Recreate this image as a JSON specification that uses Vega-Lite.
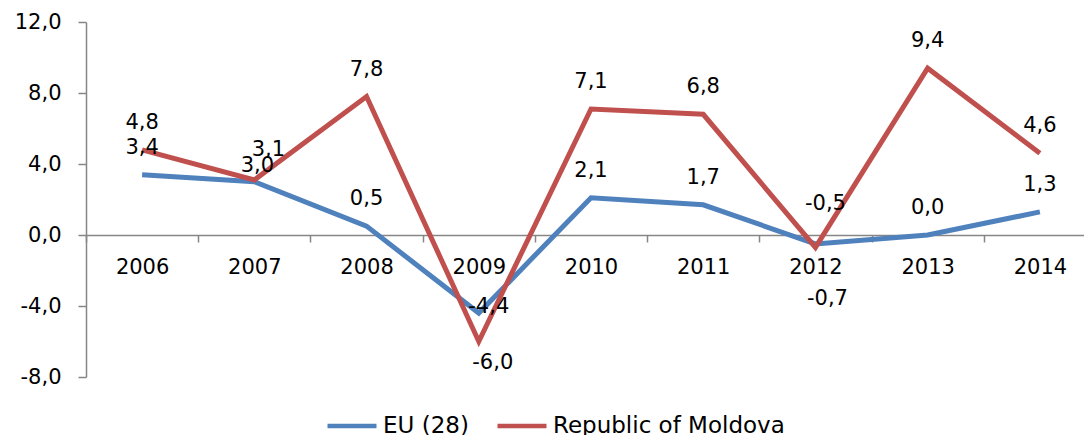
{
  "$schema": "https://vega.github.io/schema/vega-lite/v6.json",
  "width": 998,
  "height": 355,
  "autosize": "none",
  "padding": {"left": 86, "top": 22, "right": 0, "bottom": 58},
  "background": "white",
  "config": {"view": {"stroke": null}},
  "data": {
    "values": [
      {"year": "2006", "series": "EU (28)", "value": 3.4},
      {"year": "2007", "series": "EU (28)", "value": 3.0},
      {"year": "2008", "series": "EU (28)", "value": 0.5},
      {"year": "2009", "series": "EU (28)", "value": -4.4},
      {"year": "2010", "series": "EU (28)", "value": 2.1},
      {"year": "2011", "series": "EU (28)", "value": 1.7},
      {"year": "2012", "series": "EU (28)", "value": -0.5},
      {"year": "2013", "series": "EU (28)", "value": 0.0},
      {"year": "2014", "series": "EU (28)", "value": 1.3},
      {"year": "2006", "series": "Republic of Moldova", "value": 4.8},
      {"year": "2007", "series": "Republic of Moldova", "value": 3.1},
      {"year": "2008", "series": "Republic of Moldova", "value": 7.8},
      {"year": "2009", "series": "Republic of Moldova", "value": -6.0},
      {"year": "2010", "series": "Republic of Moldova", "value": 7.1},
      {"year": "2011", "series": "Republic of Moldova", "value": 6.8},
      {"year": "2012", "series": "Republic of Moldova", "value": -0.7},
      {"year": "2013", "series": "Republic of Moldova", "value": 9.4},
      {"year": "2014", "series": "Republic of Moldova", "value": 4.6}
    ]
  },
  "transform": [
    {"calculate": "replace(replace(format(datum.value, '.1f'), '.', ','), '−', '-')", "as": "label"}
  ],
  "encoding": {
    "x": {
      "field": "year",
      "type": "ordinal",
      "bandPosition": 0.5,
      "scale": {"type": "band", "range": [0, 1010], "paddingInner": 0, "paddingOuter": 0},
      "axis": {
        "orient": "bottom",
        "offset": -142,
        "title": null,
        "labelAngle": 0,
        "tickBand": "extent",
        "domainColor": "#868686",
        "tickColor": "#868686",
        "domainWidth": 1.5,
        "tickWidth": 1.5,
        "tickSize": 7,
        "labelPadding": 14,
        "labelFontSize": 21,
        "labelFont": "DejaVu Sans",
        "labelColor": "black"
      }
    },
    "y": {
      "field": "value",
      "type": "quantitative",
      "scale": {"domain": [-8, 12], "nice": false, "zero": false},
      "axis": {
        "values": [-8, -4, 0, 4, 8, 12],
        "title": null,
        "grid": false,
        "domainColor": "#868686",
        "tickColor": "#868686",
        "domainWidth": 1.5,
        "tickWidth": 1.5,
        "tickSize": 8,
        "labelPadding": 17,
        "labelFontSize": 21,
        "labelFont": "DejaVu Sans",
        "labelColor": "black",
        "labelExpr": "replace(replace(format(datum.value, '.1f'), '.', ','), '−', '-')"
      }
    }
  },
  "layer": [
    {
      "mark": {"type": "line", "strokeWidth": 5},
      "encoding": {
        "color": {
          "field": "series",
          "type": "nominal",
          "scale": {"domain": ["EU (28)", "Republic of Moldova"], "range": ["#4F81BD", "#C0504D"]},
          "legend": {
            "orient": "none",
            "direction": "horizontal",
            "legendX": 239,
            "legendY": 377,
            "title": null,
            "symbolType": "stroke",
            "symbolSize": 2401,
            "symbolStrokeWidth": 4.5,
            "labelFontSize": 23,
            "labelFont": "DejaVu Sans",
            "labelColor": "black",
            "labelLimit": 0,
            "labelOffset": 4,
            "columnPadding": 19,
            "padding": 0
          }
        }
      }
    },
    {
      "transform": [{"filter": "datum.year != '2007' && datum.year != '2009' && datum.year != '2012'"}],
      "mark": {"type": "text", "font": "DejaVu Sans", "fontSize": 21, "color": "black", "baseline": "middle", "align": "center", "dy": -27},
      "encoding": {"text": {"field": "label"}}
    },
    {
      "transform": [{"filter": "datum.year == '2007' && datum.series == 'Republic of Moldova'"}],
      "mark": {"type": "text", "font": "DejaVu Sans", "fontSize": 21, "color": "black", "baseline": "middle", "align": "center", "dx": 14, "dy": -30},
      "encoding": {"text": {"field": "label"}}
    },
    {
      "transform": [{"filter": "datum.year == '2007' && datum.series == 'EU (28)'"}],
      "mark": {"type": "text", "font": "DejaVu Sans", "fontSize": 21, "color": "black", "baseline": "middle", "align": "center", "dx": 3, "dy": -16},
      "encoding": {"text": {"field": "label"}}
    },
    {
      "transform": [{"filter": "datum.year == '2009' && datum.series == 'EU (28)'"}],
      "mark": {"type": "text", "font": "DejaVu Sans", "fontSize": 21, "color": "black", "baseline": "middle", "align": "center", "dx": 10, "dy": -6},
      "encoding": {"text": {"field": "label"}}
    },
    {
      "transform": [{"filter": "datum.year == '2009' && datum.series == 'Republic of Moldova'"}],
      "mark": {"type": "text", "font": "DejaVu Sans", "fontSize": 21, "color": "black", "baseline": "middle", "align": "center", "dx": 14, "dy": 21},
      "encoding": {"text": {"field": "label"}}
    },
    {
      "transform": [{"filter": "datum.year == '2012' && datum.series == 'EU (28)'"}],
      "mark": {"type": "text", "font": "DejaVu Sans", "fontSize": 21, "color": "black", "baseline": "middle", "align": "center", "dx": 10, "dy": -40},
      "encoding": {"text": {"field": "label"}}
    },
    {
      "transform": [{"filter": "datum.year == '2012' && datum.series == 'Republic of Moldova'"}],
      "mark": {"type": "text", "font": "DejaVu Sans", "fontSize": 21, "color": "black", "baseline": "middle", "align": "center", "dx": 12, "dy": 52},
      "encoding": {"text": {"field": "label"}}
    }
  ]
}
